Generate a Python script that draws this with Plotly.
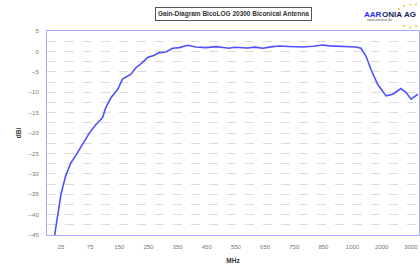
import numpy as np
import plotly.graph_objects as go

# Category-style frequency axis labels (MHz)
tick_labels = ["25", "75", "150", "250", "350", "450", "550", "650", "750", "850", "1000", "2000", "3000"]
tick_freqs = [25, 75, 150, 250, 350, 450, 550, 650, 750, 850, 1000, 2000, 3000]

freq_mhz = [12, 14, 25, 33, 42, 50, 62, 74, 90, 107, 115, 129, 146, 161, 175, 190, 207, 230, 247,
            270, 287, 310, 333, 356, 384, 413, 447, 482, 505, 527, 545, 562, 590, 615, 642, 670,
            699, 730, 779, 815, 847, 880, 930, 1000, 1060, 1120, 1290, 1460, 1630, 1860, 2150,
            2380, 2660, 2840, 3010, 3240]
gain_dbi = [-47.0, -45.0, -35.0, -30.5, -27.3, -25.6, -22.8, -19.9, -17.9, -16.2, -13.8, -11.3, -9.3,
            -6.8, -6.2, -5.6, -4.0, -2.7, -1.5, -0.96, -0.3, -0.15, 0.76, 0.93, 1.5, 1.08, 0.93,
            1.18, 0.95, 0.76, 1.0, 0.93, 0.85, 1.05, 0.76, 1.1, 1.32, 1.2, 1.08, 1.25, 1.57, 1.35,
            1.25, 1.2, 1.1, 1.08, 0.76, -1.13, -4.39, -8.06, -10.9, -10.5, -9.1, -10.1, -11.7, -10.5]

# Piecewise category scale: label index per frequency (extended at both ends)
bp_freq = [-25] + tick_freqs + [4000]
bp_pos = [-1] + list(range(len(tick_freqs))) + [len(tick_freqs)]
x_pos = np.interp(freq_mhz, bp_freq, bp_pos)

fig = go.Figure()
fig.add_trace(go.Scatter(x=x_pos, y=gain_dbi, mode="lines",
                         line=dict(color="rgb(80,80,255)", width=1.6), hoverinfo="skip"))

axis_font = dict(family="Liberation Sans, Arial, sans-serif", size=6, color="#777777")
border = "rgb(170,170,255)"

fig.update_layout(
    width=420, height=265,
    margin=dict(l=47, r=1, t=31, b=30),
    paper_bgcolor="white", plot_bgcolor="white",
    showlegend=False,
    font=dict(family="Liberation Sans, Arial, sans-serif"),
    xaxis=dict(
        range=[-0.48, 12.28], tickmode="array", tickvals=list(range(len(tick_labels))),
        ticktext=tick_labels, tickfont=axis_font, showgrid=False, zeroline=False,
        showline=True, linecolor=border, linewidth=1, mirror=True, ticks="", ticklabelstandoff=6,
        title=dict(text="<b>MHz</b>", font=dict(size=6.5, color="#333333"), standoff=9),
    ),
    yaxis=dict(
        range=[-45, 5], tickmode="linear", tick0=-45, dtick=5, tickfont=axis_font,
        showgrid=True, gridcolor="#dcdcdc", griddash="dash", gridwidth=1, zeroline=False,
        minor=dict(dtick=2.5, tick0=-45, showgrid=True, gridcolor="#dcdcdc", griddash="dash"),
        showline=True, linecolor=border, linewidth=1, mirror=True, ticks="", ticklabelstandoff=6,
        title=dict(text="<b>dBi</b>", font=dict(size=6.5, color="#333333"), standoff=6),
    ),
)

# Boxed title
fig.add_annotation(xref="paper", yref="paper", x=(233 - 47) / 372, y=1 + (31 - 14) / 204,
                   text="<b>Gain-Diagram BicoLOG 20300 Biconical Antenna</b>", showarrow=False,
                   font=dict(size=6.5, color="#333333"), bordercolor="#555555", borderwidth=1,
                   borderpad=2, bgcolor="white", xanchor="center", yanchor="middle")

# Logo pieces (left-anchored)
logo_y = 1 + (31 - 14) / 204
for txt, px, col in [("AAR", 363, "#2a2aff"), ("ONIA", 380.5, "#1a1a5a"), ("AG", 403, "#1a1a5a")]:
    fig.add_annotation(xref="paper", yref="paper", x=(px - 47) / 372, y=logo_y,
                       text="<b>" + txt + "</b>", showarrow=False,
                       font=dict(size=8, color=col), xanchor="left", yanchor="middle",
                       borderpad=0)
fig.add_annotation(xref="paper", yref="paper", x=(366 - 47) / 372, y=1 + (31 - 20) / 204,
                   text="www.aaronia.de", showarrow=False, font=dict(size=3.5, color="#555555"),
                   xanchor="left", yanchor="middle", borderpad=0)
stars = [(399, 9), (404, 6), (410, 4.5), (416, 4.5), (404, 26), (410, 27.5), (416, 26)]
for sx, sy in stars:
    fig.add_shape(type="circle", xref="paper", yref="paper",
                  x0=(sx - 1 - 47) / 372, x1=(sx + 1 - 47) / 372,
                  y0=(235 - sy - 1) / 204, y1=(235 - sy + 1) / 204,
                  fillcolor="#f0d020", line=dict(width=0))

fig.write_html("out.html", config={"displayModeBar": False},
               post_script="document.body.style.margin='0';document.body.style.overflow='hidden';")
